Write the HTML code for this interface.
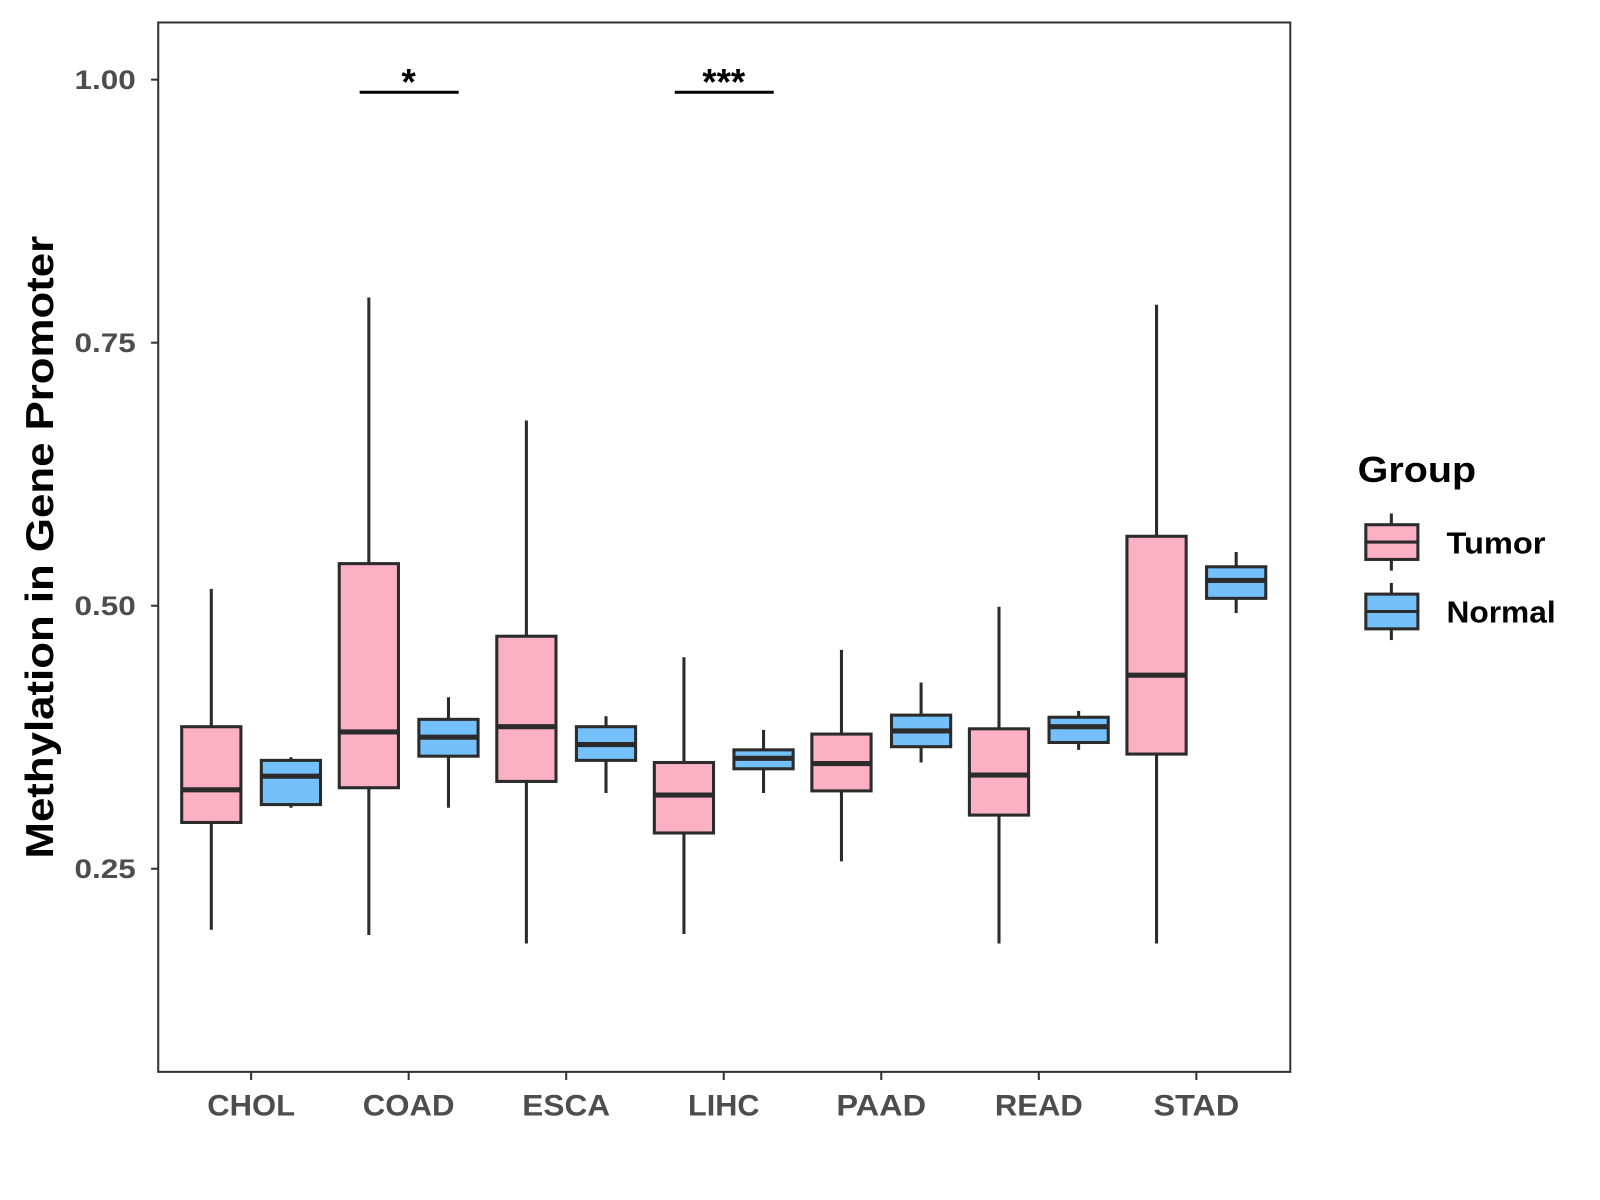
<!DOCTYPE html>
<html><head><meta charset="utf-8"><style>
html,body{margin:0;padding:0;background:#fff}
svg{display:block;font-family:"Liberation Sans",Arial,sans-serif}
</style></head><body>
<svg id="chart" width="1600" height="1200" viewBox="0 0 1567.4 1175.5" xmlns="http://www.w3.org/2000/svg">
<rect x="0" y="0" width="1567.4" height="1175.5" fill="#fff"/>
<g id="plot"></g>
<rect x="155" y="22" width="1109" height="1028" fill="none" stroke="#333" stroke-width="2"/>
<text transform="translate(52,536) rotate(-90)" text-anchor="middle" font-size="38" font-weight="bold" fill="#000" textLength="610" lengthAdjust="spacingAndGlyphs">Methylation in Gene Promoter</text>
<g>
<text x="1330" y="472" font-size="35" font-weight="bold" textLength="116" lengthAdjust="spacingAndGlyphs">Group</text>
<g>
<line x1="1363" y1="503" x2="1363" y2="559" stroke="#2b2b2b" stroke-width="3"/>
<rect x="1338" y="514" width="51" height="34" fill="#fcb0c4" stroke="#2b2b2b" stroke-width="3"/>
<line x1="1338" y1="531" x2="1389" y2="531" stroke="#2b2b2b" stroke-width="3"/>
<text x="1417" y="542" font-size="30" font-weight="bold" textLength="97" lengthAdjust="spacingAndGlyphs">Tumor</text></g>
<g>
<line x1="1363" y1="571" x2="1363" y2="627" stroke="#2b2b2b" stroke-width="3"/>
<rect x="1338" y="582" width="51" height="34" fill="#74c0fb" stroke="#2b2b2b" stroke-width="3"/>
<line x1="1338" y1="599" x2="1389" y2="599" stroke="#2b2b2b" stroke-width="3"/>
<text x="1417" y="610" font-size="30" font-weight="bold" textLength="107" lengthAdjust="spacingAndGlyphs">Normal</text></g>
</g>
</svg>
<script>
const categories=["CHOL","COAD","ESCA","LIHC","PAAD","READ","STAD"];
const tumorLow=[0.192,0.187,0.179,0.188,0.257,0.179,0.179];
const tumorQ1=[0.294,0.327,0.333,0.284,0.324,0.301,0.359];
const tumorMed=[0.325,0.380,0.385,0.320,0.350,0.339,0.434];
const tumorQ3=[0.385,0.540,0.471,0.351,0.378,0.383,0.566];
const tumorHigh=[0.516,0.793,0.676,0.451,0.458,0.499,0.786];
const normalLow=[0.308,0.308,0.322,0.322,0.351,0.363,0.493];
const normalQ1=[0.311,0.357,0.353,0.345,0.366,0.370,0.507];
const normalMed=[0.338,0.375,0.368,0.355,0.381,0.385,0.524];
const normalQ3=[0.353,0.392,0.385,0.363,0.396,0.394,0.537];
const normalHigh=[0.356,0.413,0.395,0.382,0.427,0.400,0.551];
const yTicks=[0.25,0.50,0.75,1.00];
const yTickLabels=["0.25","0.50","0.75","1.00"];
const sigCategories=["COAD","LIHC"];
const sigLabels=["*","***"];
const sigLevel=0.988;

const NS="http://www.w3.org/2000/svg";
const g=document.getElementById("plot");
function y(v){return 78+(1-v)*1030.7;}
function x(i){return 246+i*154.33;}
function mk(tag,attrs,parent){const e=document.createElementNS(NS,tag);for(const k in attrs)e.setAttribute(k,attrs[k]);(parent||g).appendChild(e);return e;}
yTicks.forEach((t,i)=>{
  const l=mk("line",{x1:148,x2:155,y1:y(t),y2:y(t),stroke:"#333","stroke-width":2});
  
  
  const tx=mk("text",{x:133,y:y(t)+9,"text-anchor":"end","font-size":26,"font-weight":"bold",fill:"#4d4d4d",textLength:60,lengthAdjust:"spacingAndGlyphs"});
  tx.textContent=yTickLabels[i];
  
  
});
const xLen=[86,90,86,70,88,86,84];
categories.forEach((c,i)=>{
  const l=mk("line",{x1:x(i),x2:x(i),y1:1050,y2:1058,stroke:"#333","stroke-width":2});
  
  
  const tx=mk("text",{x:x(i),y:1093,"text-anchor":"middle","font-size":29,"font-weight":"bold",fill:"#4d4d4d",textLength:xLen[i],lengthAdjust:"spacingAndGlyphs"});
  tx.textContent=c;
  
  
});
function box(cx,lo,q1,md,q3,hi,fill,name){
  const gg=mk("g",{});
  
  
  const w=58;
  mk("line",{x1:cx,x2:cx,y1:y(hi),y2:y(q3),stroke:"#2b2b2b","stroke-width":3},gg);
  mk("line",{x1:cx,x2:cx,y1:y(q1),y2:y(lo),stroke:"#2b2b2b","stroke-width":3},gg);
  mk("rect",{x:cx-w/2,y:y(q3),width:w,height:y(q1)-y(q3),fill:fill,stroke:"#2b2b2b","stroke-width":3},gg);
  mk("line",{x1:cx-w/2,x2:cx+w/2,y1:y(md),y2:y(md),stroke:"#2b2b2b","stroke-width":5},gg);
}
categories.forEach((c,i)=>{
  box(x(i)-39,tumorLow[i],tumorQ1[i],tumorMed[i],tumorQ3[i],tumorHigh[i],"#fcb0c4","box-tumor-"+c.toLowerCase());
  box(x(i)+39,normalLow[i],normalQ1[i],normalMed[i],normalQ3[i],normalHigh[i],"#74c0fb","box-normal-"+c.toLowerCase());
});
sigCategories.forEach((c,k)=>{
  const i=categories.indexOf(c);
  const l=mk("line",{x1:x(i)-48,x2:x(i)+49,y1:y(sigLevel),y2:y(sigLevel),stroke:"#000","stroke-width":3});
  
  
  const t=mk("text",{x:x(i),y:y(sigLevel)+2,"text-anchor":"middle","font-size":36,"font-weight":"bold",fill:"#000"});
  t.textContent=sigLabels[k];
  
  
});
</script>
</body></html>
